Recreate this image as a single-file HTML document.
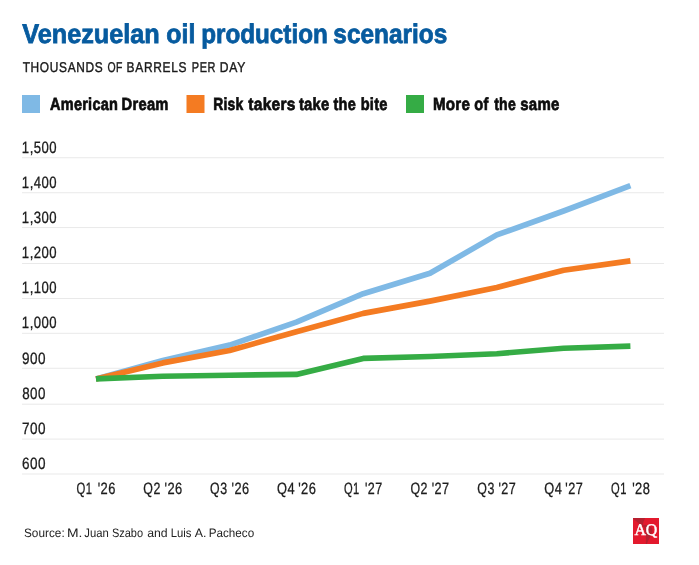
<!DOCTYPE html>
<html><head><meta charset="utf-8"><title>Venezuelan oil production scenarios</title>
<style>
html,body{margin:0;padding:0;background:#fff;}
body{width:699px;height:565px;overflow:hidden;font-family:"Liberation Sans",sans-serif;}
svg{display:block;will-change:transform;}
text{font-family:"Liberation Sans",sans-serif;text-rendering:geometricPrecision;}
.ser{font-family:"Liberation Serif",serif;}
</style></head><body>
<svg width="699" height="565" viewBox="0 0 699 565">
<rect width="699" height="565" fill="#ffffff"/>
<rect x="22" y="95" width="18" height="18" fill="#7fb9e5"/>
<rect x="186.5" y="95" width="18" height="18" fill="#f47b22"/>
<rect x="406" y="95" width="18" height="18" fill="#35ac45"/>
<rect x="22" y="157.25" width="642" height="1" fill="#e9e9e9"/>
<rect x="22" y="192.25" width="642" height="1" fill="#e9e9e9"/>
<rect x="22" y="227.05" width="642" height="1" fill="#e9e9e9"/>
<rect x="22" y="263.00" width="642" height="1" fill="#e9e9e9"/>
<rect x="22" y="298.00" width="642" height="1" fill="#e9e9e9"/>
<rect x="22" y="332.80" width="642" height="1" fill="#e9e9e9"/>
<rect x="22" y="367.75" width="642" height="1" fill="#e9e9e9"/>
<rect x="22" y="403.70" width="642" height="1" fill="#e9e9e9"/>
<rect x="22" y="438.60" width="642" height="1" fill="#e9e9e9"/>
<rect x="22" y="473.50" width="642" height="1" fill="#e9e9e9"/>
<polyline points="96.0,378.9 162.8,360.5 229.6,345.1 296.4,322.2 363.2,293.7 430.0,273.3 496.8,234.9 563.6,211.0 630.4,185.7" fill="none" stroke="#7fb9e5" stroke-width="5.65" stroke-linejoin="round"/>
<polyline points="96.0,378.9 162.8,362.9 229.6,350.5 296.4,331.8 363.2,313.4 430.0,301.1 496.8,287.4 563.6,270.3 630.4,260.9" fill="none" stroke="#f47b22" stroke-width="5.65" stroke-linejoin="round"/>
<polyline points="96.0,378.9 162.8,376.3 229.6,375.2 296.4,374.4 363.2,358.4 430.0,356.5 496.8,353.7 563.6,348.2 630.4,346.1" fill="none" stroke="#35ac45" stroke-width="5.65" stroke-linejoin="round"/>
<g>
<rect x="633" y="518" width="26" height="26" fill="#e3192d"/>
<path d="M633 518 L645.1 518 L643.7 521.3 L642.9 524 L643.5 525.3 L645.3 524.8 L648.5 525.8 L652.2 527.9 L652.5 531.4 L651.2 535.1 L649.6 538.3 L648 540.9 L646.9 544 L645.9 544 L645.9 537.4 L645.3 532 L644.5 527.7 L642.4 526.1 L639 523.4 L636.3 521.3 L633 518.4 Z" fill="#b5202f"/>
</g>
<text x="22.25" y="43" font-size="26.9" font-weight="bold" fill="#075b9f" stroke="#075b9f" stroke-width="0.8" textLength="137.50" lengthAdjust="spacingAndGlyphs">Venezuelan</text>
<text x="166.30" y="43" font-size="26.9" font-weight="bold" fill="#075b9f" stroke="#075b9f" stroke-width="0.8" textLength="29.05" lengthAdjust="spacingAndGlyphs">oil</text>
<text x="201.20" y="43" font-size="26.9" font-weight="bold" fill="#075b9f" stroke="#075b9f" stroke-width="0.8" textLength="126.60" lengthAdjust="spacingAndGlyphs">production</text>
<text x="333.35" y="43" font-size="26.9" font-weight="bold" fill="#075b9f" stroke="#075b9f" stroke-width="0.8" textLength="113.90" lengthAdjust="spacingAndGlyphs">scenarios</text>
<text x="22.65" y="71.8" font-size="14.2" letter-spacing="0.8" fill="#1a1a1a" stroke="#1a1a1a" stroke-width="0.4" textLength="80.75" lengthAdjust="spacingAndGlyphs">THOUSANDS</text>
<text x="107.40" y="71.8" font-size="14.2" letter-spacing="0.8" fill="#1a1a1a" stroke="#1a1a1a" stroke-width="0.4" textLength="15.70" lengthAdjust="spacingAndGlyphs">OF</text>
<text x="126.60" y="71.8" font-size="14.2" letter-spacing="0.8" fill="#1a1a1a" stroke="#1a1a1a" stroke-width="0.4" textLength="60.70" lengthAdjust="spacingAndGlyphs">BARRELS</text>
<text x="191.75" y="71.8" font-size="14.2" letter-spacing="0.8" fill="#1a1a1a" stroke="#1a1a1a" stroke-width="0.4" textLength="24.40" lengthAdjust="spacingAndGlyphs">PER</text>
<text x="219.85" y="71.8" font-size="14.2" letter-spacing="0.8" fill="#1a1a1a" stroke="#1a1a1a" stroke-width="0.4" textLength="26.05" lengthAdjust="spacingAndGlyphs">DAY</text>
<text x="50.00" y="110.0" font-size="17.5" font-weight="bold" letter-spacing="0.3" fill="#0d0d0d" stroke="#0d0d0d" stroke-width="0.7" textLength="68.15" lengthAdjust="spacingAndGlyphs">American</text>
<text x="121.60" y="110.0" font-size="17.5" font-weight="bold" letter-spacing="0.3" fill="#0d0d0d" stroke="#0d0d0d" stroke-width="0.7" textLength="47.05" lengthAdjust="spacingAndGlyphs">Dream</text>
<text x="213.15" y="110.0" font-size="17.5" font-weight="bold" letter-spacing="0.3" fill="#0d0d0d" stroke="#0d0d0d" stroke-width="0.7" textLength="30.35" lengthAdjust="spacingAndGlyphs">Risk</text>
<text x="248.35" y="110.0" font-size="17.5" font-weight="bold" letter-spacing="0.3" fill="#0d0d0d" stroke="#0d0d0d" stroke-width="0.7" textLength="47.40" lengthAdjust="spacingAndGlyphs">takers</text>
<text x="298.90" y="110.0" font-size="17.5" font-weight="bold" letter-spacing="0.3" fill="#0d0d0d" stroke="#0d0d0d" stroke-width="0.7" textLength="30.65" lengthAdjust="spacingAndGlyphs">take</text>
<text x="333.50" y="110.0" font-size="17.5" font-weight="bold" letter-spacing="0.3" fill="#0d0d0d" stroke="#0d0d0d" stroke-width="0.7" textLength="22.50" lengthAdjust="spacingAndGlyphs">the</text>
<text x="360.70" y="110.0" font-size="17.5" font-weight="bold" letter-spacing="0.3" fill="#0d0d0d" stroke="#0d0d0d" stroke-width="0.7" textLength="27.00" lengthAdjust="spacingAndGlyphs">bite</text>
<text x="432.95" y="110.0" font-size="17.5" font-weight="bold" letter-spacing="0.3" fill="#0d0d0d" stroke="#0d0d0d" stroke-width="0.7" textLength="37.20" lengthAdjust="spacingAndGlyphs">More</text>
<text x="474.25" y="110.0" font-size="17.5" font-weight="bold" letter-spacing="0.3" fill="#0d0d0d" stroke="#0d0d0d" stroke-width="0.7" textLength="14.25" lengthAdjust="spacingAndGlyphs">of</text>
<text x="494.20" y="110.0" font-size="17.5" font-weight="bold" letter-spacing="0.3" fill="#0d0d0d" stroke="#0d0d0d" stroke-width="0.7" textLength="21.80" lengthAdjust="spacingAndGlyphs">the</text>
<text x="520.25" y="110.0" font-size="17.5" font-weight="bold" letter-spacing="0.3" fill="#0d0d0d" stroke="#0d0d0d" stroke-width="0.7" textLength="39.40" lengthAdjust="spacingAndGlyphs">same</text>
<text x="21.85" y="152.95" font-size="16.4" letter-spacing="0.6" fill="#1c1c1c" stroke="#1c1c1c" stroke-width="0.3" textLength="35.30" lengthAdjust="spacingAndGlyphs">1,500</text>
<text x="21.85" y="188.05" font-size="16.4" letter-spacing="0.6" fill="#1c1c1c" stroke="#1c1c1c" stroke-width="0.3" textLength="35.30" lengthAdjust="spacingAndGlyphs">1,400</text>
<text x="21.85" y="223.15" font-size="16.4" letter-spacing="0.6" fill="#1c1c1c" stroke="#1c1c1c" stroke-width="0.3" textLength="35.30" lengthAdjust="spacingAndGlyphs">1,300</text>
<text x="21.85" y="258.25" font-size="16.4" letter-spacing="0.6" fill="#1c1c1c" stroke="#1c1c1c" stroke-width="0.3" textLength="35.30" lengthAdjust="spacingAndGlyphs">1,200</text>
<text x="21.85" y="293.35" font-size="16.4" letter-spacing="0.6" fill="#1c1c1c" stroke="#1c1c1c" stroke-width="0.3" textLength="35.30" lengthAdjust="spacingAndGlyphs">1,100</text>
<text x="21.85" y="328.45" font-size="16.4" letter-spacing="0.6" fill="#1c1c1c" stroke="#1c1c1c" stroke-width="0.3" textLength="35.30" lengthAdjust="spacingAndGlyphs">1,000</text>
<text x="21.95" y="363.55" font-size="16.4" letter-spacing="0.6" fill="#1c1c1c" stroke="#1c1c1c" stroke-width="0.3" textLength="24.05" lengthAdjust="spacingAndGlyphs">900</text>
<text x="22.20" y="398.65" font-size="16.4" letter-spacing="0.6" fill="#1c1c1c" stroke="#1c1c1c" stroke-width="0.3" textLength="23.80" lengthAdjust="spacingAndGlyphs">800</text>
<text x="21.95" y="433.75" font-size="16.4" letter-spacing="0.6" fill="#1c1c1c" stroke="#1c1c1c" stroke-width="0.3" textLength="24.05" lengthAdjust="spacingAndGlyphs">700</text>
<text x="21.95" y="468.85" font-size="16.4" letter-spacing="0.6" fill="#1c1c1c" stroke="#1c1c1c" stroke-width="0.3" textLength="24.05" lengthAdjust="spacingAndGlyphs">600</text>
<text x="76.50" y="493.8" font-size="16.4" letter-spacing="0.6" fill="#1c1c1c" stroke="#1c1c1c" stroke-width="0.3" textLength="15.95" lengthAdjust="spacingAndGlyphs">Q1</text>
<text x="97.65" y="493.8" font-size="16.4" letter-spacing="0.6" fill="#1c1c1c" stroke="#1c1c1c" stroke-width="0.3" textLength="18.25" lengthAdjust="spacingAndGlyphs">'26</text>
<text x="143.35" y="493.8" font-size="16.4" letter-spacing="0.6" fill="#1c1c1c" stroke="#1c1c1c" stroke-width="0.3" textLength="17.45" lengthAdjust="spacingAndGlyphs">Q2</text>
<text x="164.45" y="493.8" font-size="16.4" letter-spacing="0.6" fill="#1c1c1c" stroke="#1c1c1c" stroke-width="0.3" textLength="18.25" lengthAdjust="spacingAndGlyphs">'26</text>
<text x="210.10" y="493.8" font-size="16.4" letter-spacing="0.6" fill="#1c1c1c" stroke="#1c1c1c" stroke-width="0.3" textLength="17.35" lengthAdjust="spacingAndGlyphs">Q3</text>
<text x="231.55" y="493.8" font-size="16.4" letter-spacing="0.6" fill="#1c1c1c" stroke="#1c1c1c" stroke-width="0.3" textLength="18.00" lengthAdjust="spacingAndGlyphs">'26</text>
<text x="277.05" y="493.8" font-size="16.4" letter-spacing="0.6" fill="#1c1c1c" stroke="#1c1c1c" stroke-width="0.3" textLength="18.05" lengthAdjust="spacingAndGlyphs">Q4</text>
<text x="298.15" y="493.8" font-size="16.4" letter-spacing="0.6" fill="#1c1c1c" stroke="#1c1c1c" stroke-width="0.3" textLength="18.25" lengthAdjust="spacingAndGlyphs">'26</text>
<text x="343.90" y="493.8" font-size="16.4" letter-spacing="0.6" fill="#1c1c1c" stroke="#1c1c1c" stroke-width="0.3" textLength="15.70" lengthAdjust="spacingAndGlyphs">Q1</text>
<text x="365.00" y="493.8" font-size="16.4" letter-spacing="0.6" fill="#1c1c1c" stroke="#1c1c1c" stroke-width="0.3" textLength="17.70" lengthAdjust="spacingAndGlyphs">'27</text>
<text x="410.50" y="493.8" font-size="16.4" letter-spacing="0.6" fill="#1c1c1c" stroke="#1c1c1c" stroke-width="0.3" textLength="17.45" lengthAdjust="spacingAndGlyphs">Q2</text>
<text x="431.65" y="493.8" font-size="16.4" letter-spacing="0.6" fill="#1c1c1c" stroke="#1c1c1c" stroke-width="0.3" textLength="17.90" lengthAdjust="spacingAndGlyphs">'27</text>
<text x="477.35" y="493.8" font-size="16.4" letter-spacing="0.6" fill="#1c1c1c" stroke="#1c1c1c" stroke-width="0.3" textLength="17.45" lengthAdjust="spacingAndGlyphs">Q3</text>
<text x="498.50" y="493.8" font-size="16.4" letter-spacing="0.6" fill="#1c1c1c" stroke="#1c1c1c" stroke-width="0.3" textLength="17.75" lengthAdjust="spacingAndGlyphs">'27</text>
<text x="544.20" y="493.8" font-size="16.4" letter-spacing="0.6" fill="#1c1c1c" stroke="#1c1c1c" stroke-width="0.3" textLength="18.05" lengthAdjust="spacingAndGlyphs">Q4</text>
<text x="565.30" y="493.8" font-size="16.4" letter-spacing="0.6" fill="#1c1c1c" stroke="#1c1c1c" stroke-width="0.3" textLength="17.85" lengthAdjust="spacingAndGlyphs">'27</text>
<text x="611.05" y="493.8" font-size="16.4" letter-spacing="0.6" fill="#1c1c1c" stroke="#1c1c1c" stroke-width="0.3" textLength="15.70" lengthAdjust="spacingAndGlyphs">Q1</text>
<text x="632.15" y="493.8" font-size="16.4" letter-spacing="0.6" fill="#1c1c1c" stroke="#1c1c1c" stroke-width="0.3" textLength="18.20" lengthAdjust="spacingAndGlyphs">'28</text>
<text x="24.00" y="536.8" font-size="12.2" fill="#222222" textLength="40.70" lengthAdjust="spacingAndGlyphs">Source:</text>
<text x="66.95" y="536.8" font-size="12.2" fill="#222222" textLength="15.45" lengthAdjust="spacingAndGlyphs">M.</text>
<text x="84.30" y="536.8" font-size="12.2" fill="#222222" textLength="24.45" lengthAdjust="spacingAndGlyphs">Juan</text>
<text x="111.95" y="536.8" font-size="12.2" fill="#222222" textLength="31.15" lengthAdjust="spacingAndGlyphs">Szabo</text>
<text x="147.15" y="536.8" font-size="12.2" fill="#222222" textLength="20.45" lengthAdjust="spacingAndGlyphs">and</text>
<text x="170.85" y="536.8" font-size="12.2" fill="#222222" textLength="20.65" lengthAdjust="spacingAndGlyphs">Luis</text>
<text x="194.65" y="536.8" font-size="12.2" fill="#222222" textLength="11.70" lengthAdjust="spacingAndGlyphs">A.</text>
<text x="208.70" y="536.8" font-size="12.2" fill="#222222" textLength="45.45" lengthAdjust="spacingAndGlyphs">Pacheco</text>
<text class="ser" x="634.40" y="534.6" font-size="16.2" fill="#ffffff" stroke="#ffffff" stroke-width="0.45" textLength="22.95" lengthAdjust="spacingAndGlyphs">AQ</text>
</svg>
</body></html>
